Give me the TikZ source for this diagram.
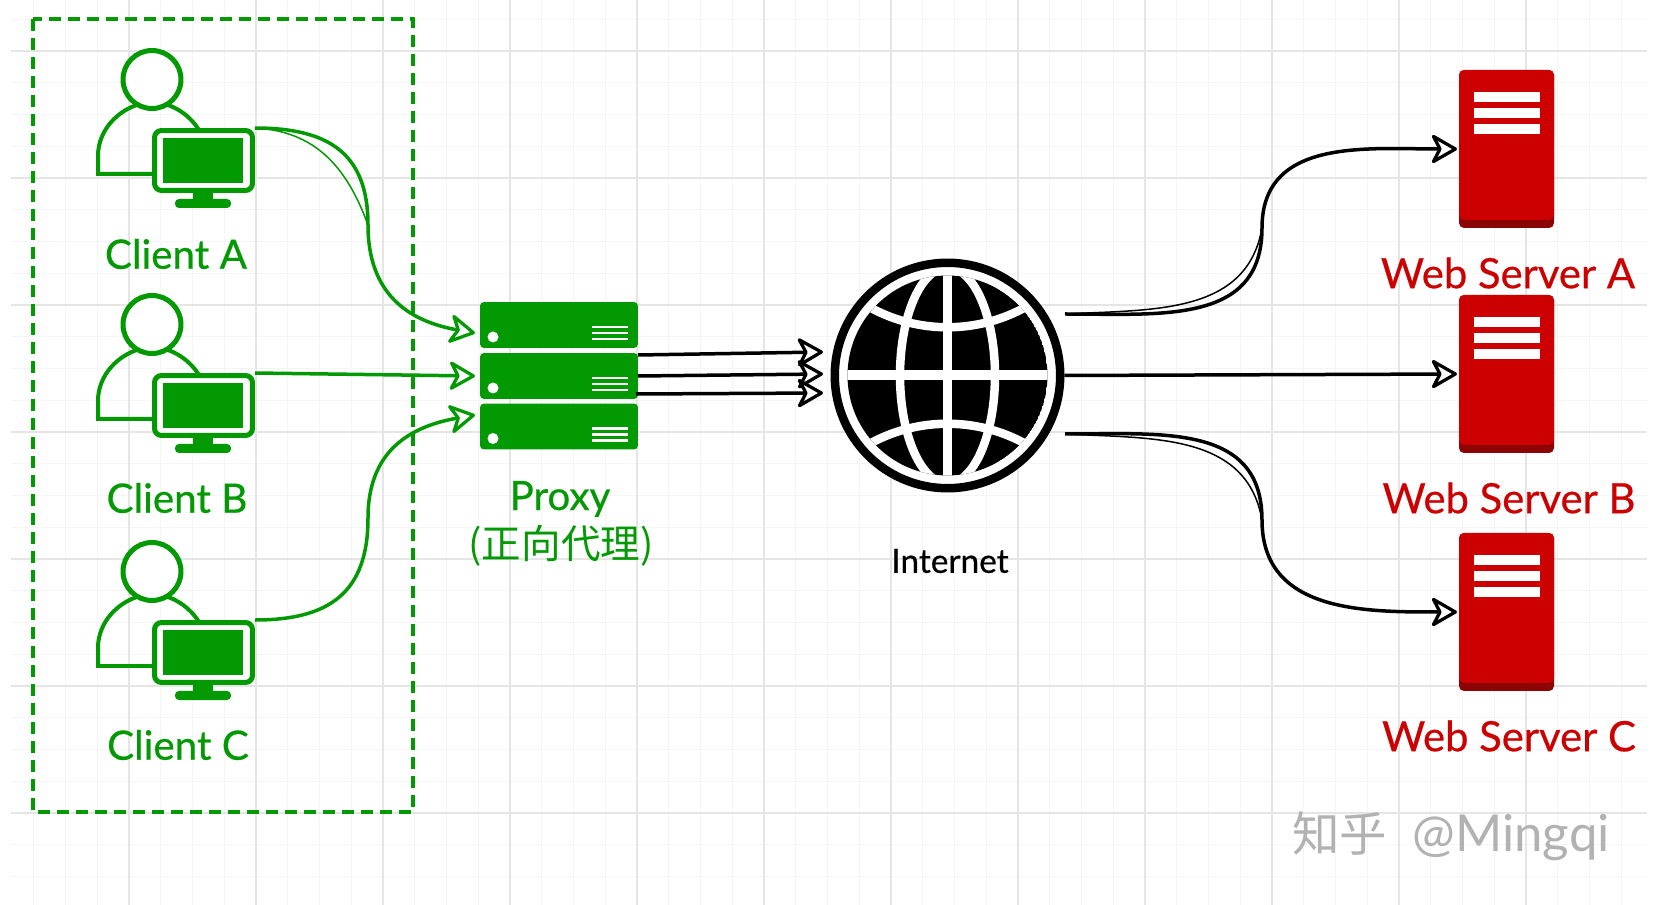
\documentclass[tikz,border=0pt]{standalone}
\usepackage{fontspec}
\setmainfont{Lato}
\newfontfamily\labfont{Lato}[FakeBold=0.5]
\newfontfamily\cjkfont{Noto Sans CJK SC}
\usetikzlibrary{arrows.meta}
\definecolor{cgreen}{HTML}{029902}
\definecolor{cred}{HTML}{CC0000}
\definecolor{cdark}{HTML}{8C0505}
\tikzset{
  gridminor/.style={line width=0.02cm,black!4},
  gridmajor/.style={line width=0.03cm,black!10},
  frame/.style={draw=cgreen,line width=0.07cm,dash pattern=on 0.24cm off 0.14cm},
  mon/.style={rectangle,draw=cgreen,fill=white,line width=0.1cm,rounded corners=0.14cm,minimum width=1.96cm,minimum height=1.2cm,inner sep=0pt},
  person/.style={draw=cgreen,line width=0.08cm},
  rack/.style={rectangle,fill=cgreen,rounded corners=0.08cm,minimum width=3.16cm,minimum height=0.92cm,inner sep=0pt},
  tower/.style={rectangle,fill=cred,rounded corners=0.1cm,minimum width=1.9cm,minimum height=3.0cm,inner sep=0pt},
  greenlab/.style={font=\labfont\fontsize{23}{26}\selectfont,text=cgreen},
  redlab/.style={font=\labfont\fontsize{23.8}{26}\selectfont,text=cred},
  gedge/.style={draw=cgreen,line width=0.07cm,-{Stealth[length=5.8mm,width=6.6mm,inset=1.7mm,line width=0.065cm,fill=white,round]}},
  bedge/.style={draw=black,line width=0.07cm,-{Stealth[length=5.8mm,width=6.6mm,inset=1.7mm,line width=0.065cm,fill=white,round]}},
  sketch/.style={line width=0.03cm},
  pics/clienticon/.style={code={
    \draw[person] (152,174) -- (98,174) -- (98,156) .. controls (98,130) and (118,110) .. (140,104) -- (165,104) .. controls (178,108) and (190,116) .. (199,130);
    \draw[person,fill=white,line width=0.1cm] (152,79.5) circle (0.58cm);
    \node[mon] (-mon) at (203.5,160.5) {};
    \fill[cgreen] (163,138) rectangle (243,183);
    \fill[cgreen] (193,190) rectangle (213,202);
    \fill[cgreen,rounded corners=0.08cm] (175,199) rectangle (231,208);
  }},
  pics/rackicon/.style={code={
    \node[rack] (-box) at (0,0) {};
    \fill[white] (-66,12) circle (0.11cm);
    \foreach \y in {2,8,14} \fill[white] (33,\y-1.4) rectangle (69,\y+1.4);
  }},
  pics/towericon/.style={code={
    \fill[cdark,rounded corners=0.1cm] (-47.5,-79) rectangle (47.5,79);
    \node[tower] (-box) at (0,-4) {};
    \foreach \y in {-52,-36,-20} \fill[white] (-33,\y-5) rectangle (33,\y+5);
  }},
}
\begin{document}
\begin{tikzpicture}[x=0.02cm,y=-0.02cm]
  \useasboundingbox (0,0) rectangle (1658,905);
  \fill[white] (0,0) rectangle (1658,905);
  \foreach \k in {1,...,51} \draw[gridminor] ({2+31.75*\k},0) -- ++(0,905);
  \foreach \k in {0,...,27} \draw[gridminor] (11,{19.25+31.75*\k}) -- (1647,{19.25+31.75*\k});
  \foreach \k in {1,...,12} \draw[gridmajor] ({2+127*\k},0) -- ++(0,905);
  \foreach \k in {0,...,6} \draw[gridmajor] (11,{51+127*\k}) -- (1647,{51+127*\k});

  \draw[frame] (33,19) rectangle (413,812);

  \pic (ca) at (0,0) {clienticon};
  \pic (cb) at (0,245) {clienticon};
  \pic (cc) at (0,492) {clienticon};
  \node[greenlab] (la) at (176,254) {Client A};
  \node[greenlab] (lb) at (177,498) {Client B};
  \node[greenlab] (lc) at (178,745) {Client C};

  \pic (p1) at (559,325) {rackicon};
  \pic (p2) at (559,376) {rackicon};
  \pic (p3) at (559,426.5) {rackicon};
  \node[greenlab] (lp) at (560,499) {Proxy};
  \node[font=\cjkfont\fontsize{22.5}{24}\selectfont,text=cgreen] (lq) at (561,546) {(正向代理)};

  \node[circle,draw=black,fill=white,line width=0.17cm,minimum size=4.51cm,inner sep=0pt] (globe) at (947.5,375.5) {};
  \begin{scope}
    \clip (947.5,375.5) circle (2.0cm);
    \fill[black] (947.5,375.5) circle (2.0cm);
    \draw[white,line width=0.18cm] (947.5,260) -- (947.5,490);
    \draw[white,line width=0.2cm] (840,375.5) -- (1055,375.5);
    \draw[white,line width=0.17cm] (947.5,375.5) ellipse (0.95cm and 2.16cm);
    \draw[white,line width=0.17cm] (855,298) .. controls (910,337) and (985,337) .. (1040,298);
    \draw[white,line width=0.17cm] (855,453) .. controls (910,414) and (985,414) .. (1040,453);
  \end{scope}
  \node[font=\labfont\fontsize{19}{22}\selectfont] (li) at (950,561) {Internet};

  \pic (sa) at (1506.5,149) {towericon};
  \pic (sb) at (1506.5,374) {towericon};
  \pic (sc) at (1506.5,612) {towericon};
  \node[redlab] (ra) at (1508,273) {Web Server A};
  \node[redlab] (rb) at (1509,498) {Web Server B};
  \node[redlab] (rc) at (1509,736) {Web Server C};

  \coordinate (ina) at (475,333);
  \coordinate (inb) at (475,376);
  \coordinate (inc) at (475,415);
  \coordinate (benda) at (368,225);
  \coordinate (bendc) at (368,518);
  \draw[gedge] (ca-mon.north east) to[out=0,in=90,looseness=1.25] (benda) to[out=-90,in=170,looseness=1.15] (ina);
  \draw[draw=cgreen,sketch] (ca-mon.north east) to[out=-3,in=110,looseness=1.05] (benda);
  \draw[gedge] (cb-mon.north east) -- (inb);
  \draw[gedge] (cc-mon.north east) to[out=0,in=-90,looseness=1.25] (bendc) to[out=90,in=190,looseness=1.15] (inc);

  \coordinate (o1) at (638,355);
  \coordinate (o2) at (638,376);
  \coordinate (o3) at (636,394);
  \coordinate (t1) at (823,352);
  \coordinate (t2) at (823,374);
  \coordinate (t3) at (823,393);
  \draw[bedge] (o1) -- (t1);
  \draw[bedge] (o2) -- (t2);
  \draw[bedge] (o3) -- (t3);

  \coordinate (ga) at (1065,314);
  \coordinate (gc) at (1065,434);
  \coordinate (benda2) at (1262,228);
  \coordinate (bendc2) at (1262,520);
  \coordinate (ta) at (1457,149);
  \coordinate (tb) at (1457,374);
  \coordinate (tc) at (1457,612);
  \draw[bedge] (ga) to[out=0,in=-90,looseness=1.15] (benda2) to[out=90,in=180,looseness=1.1] (ta);
  \draw[black,sketch] (ga) to[out=3,in=-100,looseness=1.05] (benda2);
  \draw[bedge] (globe.east) -- (tb);
  \draw[bedge] (gc) to[out=0,in=90,looseness=1.15] (bendc2) to[out=-90,in=180,looseness=1.1] (tc);
  \draw[black,sketch] (gc) to[out=-3,in=100,looseness=1.05] (bendc2);

  \node[text=black!30,font=\fontsize{29}{32}\selectfont,anchor=west,inner sep=0pt] (mark) at (1292,836) {{\cjkfont\fontsize{27}{30}\selectfont 知乎}\hspace{0.5em}@Mingqi};
\end{tikzpicture}
\end{document}
